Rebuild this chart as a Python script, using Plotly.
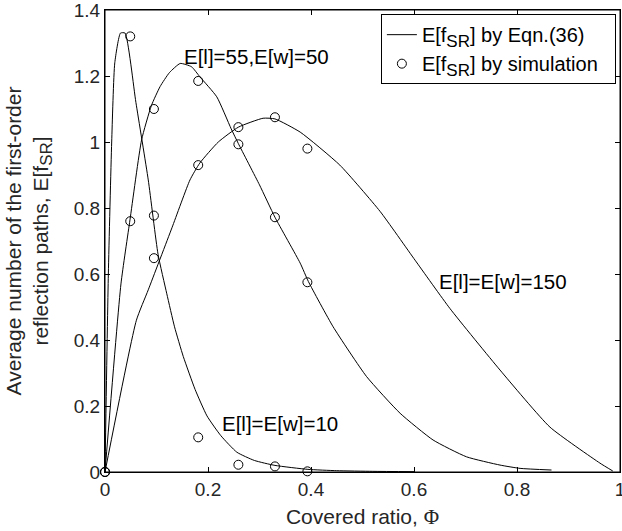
import plotly.graph_objects as go

# ---------------- data ----------------
x_ticks = [0, 0.2, 0.4, 0.6, 0.8, 1]
x_tick_labels = ["0", "0.2", "0.4", "0.6", "0.8", "1"]
y_ticks = [0, 0.2, 0.4, 0.6, 0.8, 1, 1.2, 1.4]
y_tick_labels = ["0", "0.2", "0.4", "0.6", "0.8", "1", "1.2", "1.4"]

# analytic curves (Eqn. 36)
phi_10 = [0, 0.0065, 0.013, 0.019, 0.030, 0.039, 0.06, 0.084, 0.103, 0.12, 0.135,
          0.152, 0.175, 0.198, 0.225, 0.256, 0.29, 0.33, 0.394, 0.45, 0.52, 0.6]
eqn_10 = [0, 0.60, 1.0, 1.24, 1.33, 1.33, 1.12, 0.885, 0.66, 0.54, 0.44,
          0.35, 0.25, 0.17, 0.11, 0.06, 0.035, 0.02, 0.008, 0.004, 0.002, 0.001]

phi_55 = [0, 0.031, 0.0485, 0.071, 0.09, 0.107, 0.125, 0.146, 0.168, 0.184, 0.217,
          0.245, 0.259, 0.30, 0.33, 0.379, 0.395, 0.443, 0.508, 0.573, 0.637, 0.702,
          0.767, 0.806, 0.867]
eqn_55 = [0, 0.57, 0.764, 1.006, 1.11, 1.168, 1.21, 1.238, 1.228, 1.198, 1.137,
          1.04, 0.995, 0.87, 0.772, 0.633, 0.577, 0.44, 0.289, 0.178, 0.097, 0.046,
          0.021, 0.011, 0.006]

phi_150 = [0, 0.061, 0.084, 0.13, 0.165, 0.184, 0.22, 0.259, 0.307, 0.33, 0.379,
           0.456, 0.534, 0.602, 0.67, 0.767, 0.864, 0.961, 0.986]
eqn_150 = [0, 0.46, 0.552, 0.74, 0.885, 0.936, 1.0, 1.045, 1.072, 1.07, 1.03,
           0.93, 0.79, 0.642, 0.495, 0.309, 0.136, 0.027, 0.003]

# simulation points
phi_sim = [0, 0.049, 0.095, 0.181, 0.259, 0.330, 0.393]
sim_10 = [0, 1.32, 0.777, 0.105, 0.022, 0.017, 0.002]
sim_55 = [0, 0.76, 1.10, 1.185, 0.993, 0.772, 0.575]
sim_150 = [0, None, 0.648, 0.93, 1.045, 1.075, 0.98]

labels = ["E[l]=55,E[w]=50", "E[l]=E[w]=150", "E[l]=E[w]=10"]
label_x = [0.1495, 0.645, 0.2233]
label_y = [1.258, 0.577, 0.1475]

FONT = "Liberation Sans, Arial, Helvetica, sans-serif"
TICK_FS = 19
TITLE_FS = 21
TEXT_FS = 20.5
LEG_FS = 20
SUB = '<sub><span style="font-size:17px">SR</span></sub>'
PAD = "&nbsp;&nbsp;"

X_RANGE = [0, 1.000001]
Y_RANGE = [0, 1.400001]

fig = go.Figure()
for i, (px, py) in enumerate([(phi_10, eqn_10), (phi_55, eqn_55), (phi_150, eqn_150)]):
    fig.add_trace(go.Scatter(x=px, y=py, mode="lines",
                             line=dict(color="black", width=1, shape="spline", smoothing=0.5),
                             name="E[f" + SUB + "] by Eqn.(36)", showlegend=(i == 0),
                             cliponaxis=False))
for i, sy in enumerate([sim_10, sim_55, sim_150]):
    fig.add_trace(go.Scatter(x=phi_sim, y=sy, mode="markers",
                             marker=dict(symbol="circle-open", size=9, color="black",
                                         line=dict(width=1, color="black")),
                             name="E[f" + SUB + "] by simulation" + PAD, showlegend=(i == 0),
                             cliponaxis=False))
# empty trace so that the mirrored tick axes (top / right) get drawn
fig.add_trace(go.Scatter(x=[], y=[], xaxis="x2", yaxis="y2", showlegend=False,
                         hoverinfo="skip"))

for t, lx, ly in zip(labels, label_x, label_y):
    fig.add_annotation(x=lx, y=ly, text=t, showarrow=False, xanchor="left",
                       yanchor="middle", font=dict(family=FONT, size=TEXT_FS, color="black"))

# plot frame
fig.add_shape(type="rect", xref="paper", yref="paper", x0=0, x1=1, y0=0, y1=1,
              line=dict(color="black", width=1), layer="above")

axis_common = dict(showline=True, linecolor="black", linewidth=1, mirror="allticks",
                   ticks="inside", ticklen=5, tickcolor="black", showgrid=False,
                   zeroline=False, ticklabeloverflow="allow", automargin=False,
                   tickfont=dict(family=FONT, size=TICK_FS, color="#262626"))
mirror_common = dict(ticks="inside", ticklen=5, tickcolor="black", showgrid=False,
                     zeroline=False, showticklabels=False, showline=False,
                     automargin=False)

fig.update_layout(
    width=622, height=531,
    margin=dict(l=105, r=2, t=10, b=59),
    paper_bgcolor="white", plot_bgcolor="white",
    font=dict(family=FONT, size=TICK_FS, color="black"),
    xaxis=dict(range=X_RANGE, tickvals=x_ticks, ticktext=x_tick_labels,
               title=dict(text='Covered ratio, <span style="font-family:Liberation Serif, Times New Roman, serif">Φ</span>',
                          font=dict(family=FONT, size=TITLE_FS, color="#262626"), standoff=10),
               **axis_common),
    yaxis=dict(range=Y_RANGE, tickvals=y_ticks, ticktext=y_tick_labels,
               title=dict(text="Average number of the first-order<br>reflection paths, E[f" + SUB + "]",
                          font=dict(family=FONT, size=TITLE_FS, color="#262626"), standoff=19),
               **axis_common),
    xaxis2=dict(overlaying="x", side="top", anchor="y2", range=X_RANGE,
                tickvals=x_ticks, **mirror_common),
    yaxis2=dict(overlaying="y", side="right", anchor="x2", range=Y_RANGE,
                tickvals=y_ticks, **mirror_common),
    legend=dict(x=0.992, y=0.991, xanchor="right", yanchor="top",
                bgcolor="white", bordercolor="black", borderwidth=1,
                font=dict(family=FONT, size=LEG_FS, color="black"),
                tracegroupgap=0, itemwidth=30),
    showlegend=True,
)

fig.write_html("out.html", config={"displayModeBar": False},
               post_script="document.body.style.margin='0';document.body.style.overflow='hidden';")
